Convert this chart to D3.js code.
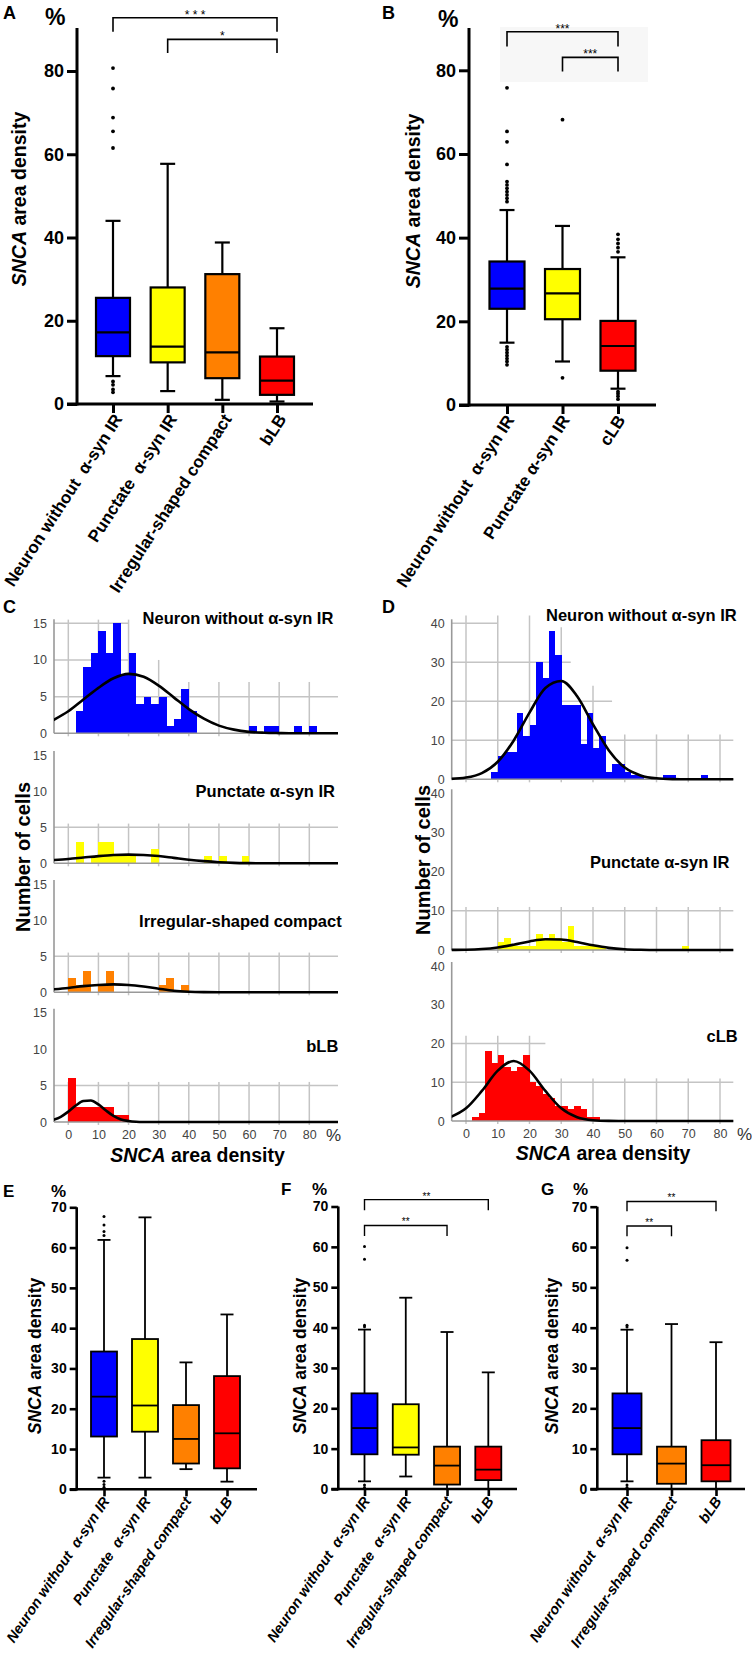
<!DOCTYPE html>
<html lang="en">
<head>
<meta charset="UTF-8">
<title>SNCA area density</title>
<script src="https://cdn.jsdelivr.net/npm/d3@7"></script>
<style>
	body { margin: 0; background: #fff; }
	text { font-family: "Liberation Sans", Arial, Helvetica, sans-serif; white-space: pre; }
</style>
</head>
<body>
<script>
// ---- categories ----
const catsA = ['Neuron without  α-syn IR', 'Punctate  α-syn IR', 'Irregular-shaped compact', 'bLB']
const catsB = ['Neuron without  α-syn IR', 'Punctate α-syn IR', 'cLB']
const catsE = ['Neuron without  α-syn IR', 'Punctate  α-syn IR', 'Irregular-shaped compact', 'bLB']
const catsG = ['Neuron without  α-syn IR', 'Irregular-shaped compact', 'bLB']

// ---- box plots: [low whisker, q1, median, q3, high whisker] ----
const boxA = [[6.7, 11.5, 17.2, 25.5, 44], [3.1, 10, 13.8, 28, 57.7], [1, 6.2, 12.4, 31.2, 38.8], [0.6, 2.2, 5.6, 11.4, 18.2]]
const outA = [[80.7, 75.8, 68.8, 65.5, 61.5, 5.4, 4.6, 3.5, 2.8], [], [], []]
const boxB = [[14.9, 23, 27.8, 34.3, 46.6], [10.4, 20.5, 26.7, 32.5, 42.8], [3.9, 8.2, 14.1, 20.1, 35.3]]
const outB = [
	[75.8, 65.4, 62.9, 57.5, 53.4, 52.6, 51.8, 51, 50.2, 49.4, 48.6, 13.9, 13.2, 12.5, 11.8, 11.1, 10.4, 9.6],
	[68.2, 6.5],
	[40.8, 39.6, 38.6, 37.6, 36.6, 3.2, 2.7, 2.1, 1.4]
]
const boxE = [[2.9, 13.1, 23, 34.2, 61.9], [2.9, 14.3, 20.8, 37.3, 67.5], [5, 6.4, 12.5, 20.9, 31.5], [1.9, 5.2, 13.9, 28.1, 43.4]]
const outE = [[67.7, 65.6, 64, 63, 2, 1.2, 0.5], [], [], []]
const boxF = [[1.9, 8.6, 15.1, 23.7, 39.5], [3.1, 8.5, 10.3, 21, 47.4], [0, 1.1, 5.8, 10.5, 38.9], [0, 2.2, 4.8, 10.5, 28.9]]
const outF = [[60.1, 56.9, 40.6, 40.2, 1, 0.4], [], [], []]
const boxG = [[1.9, 8.6, 15.1, 23.7, 39.5], [0, 1.3, 6.3, 10.5, 40.9], [0, 1.9, 5.9, 12.1, 36.4]]
const outG = [[59.8, 56.7, 40.6, 40.2, 1, 0.4], [], []]

// significance: [from, to, bracket level, drop level, label]
const sigA = [[0, 3, 92.8, 89.4, '* * *'], [1, 3, 87.6, 84.3, '*']]
const sigB = [[0, 2, 89.2, 85.7, '***'], [1, 2, 83.1, 79.7, '***']]
const sigF = [[0, 3, 71.7, 69.1, '**'], [0, 2, 65.3, 62.7, '**']]
const sigG = [[0, 2, 71.3, 68.9, '**'], [0, 1, 65.2, 62.7, '**']]

const ticks80 = [0, 20, 40, 60, 80]
const ticks70 = [0, 10, 20, 30, 40, 50, 60, 70]

// ---- histograms: [bin start, count] ----
const histC1 = [[2.5, 3], [5, 9], [7.5, 11], [10, 14], [12.5, 11], [15, 15], [17.5, 8], [20, 11], [22.5, 4], [25, 5], [27.5, 4], [30, 5], [32.5, 1], [35, 2], [37.5, 6], [40, 3], [60, 1], [65, 1], [67.5, 1], [75, 1], [80, 1]]
const histC2 = [[2.5, 3], [7.5, 1], [10, 3], [12.5, 3], [15, 1], [17.5, 1], [20, 1], [27.5, 2], [45, 1], [50, 1], [57.5, 1]]
const histC3 = [[0, 2], [2.5, 1], [5, 3], [10, 1], [12.5, 3], [30, 1], [32.5, 2], [37.5, 1]]
const histC4 = [[0, 6], [2.5, 2], [5, 2], [7.5, 2], [10, 2], [12.5, 2], [15, 1], [17.5, 1]]
const histD1 = [[8, 2], [10, 6], [12, 7], [14, 7], [16, 17], [18, 11], [20, 14], [22, 30], [24, 26], [26, 38], [28, 32], [30, 19], [32, 19], [34, 19], [36, 9], [38, 17], [40, 8], [42, 11], [44, 2], [46, 4], [48, 4], [50, 2], [52, 1], [54, 1], [62, 1], [64, 1], [74, 1]]
const histD2 = [[10, 2], [12, 3], [14, 1], [16, 1], [18, 1], [20, 1], [22, 4], [24, 3], [26, 4], [28, 3], [30, 2], [32, 6], [34, 1], [36, 1], [38, 1], [40, 1], [42, 1], [68, 1]]
const histD3 = [[2, 1], [4, 2], [6, 18], [8, 15], [10, 17], [12, 14], [14, 13], [16, 14], [18, 17], [20, 10], [22, 9], [24, 7], [26, 6], [28, 4], [30, 4], [32, 3], [34, 4], [36, 3], [38, 1], [40, 1]]

// normal fit curves: [x, count]
const fitC1 = [[-5, 1.8], [0, 3], [5, 4.6], [10, 6.2], [15, 7.5], [20, 8.1], [25, 7.7], [30, 6.5], [35, 4.9], [40, 3.3], [45, 2], [50, 1.05], [55, 0.5], [60, 0.2], [65, 0.08], [70, 0.03], [75, 0], [90, 0]]
const fitC2 = [[-5, 0.45], [0, 0.6], [5, 0.8], [10, 1], [15, 1.15], [20, 1.2], [25, 1.15], [30, 1], [35, 0.75], [40, 0.5], [45, 0.3], [50, 0.15], [55, 0.06], [60, 0.02], [65, 0], [90, 0]]
const fitC3 = [[-5, 0.42], [0, 0.6], [5, 0.85], [10, 1.02], [15, 1.1], [20, 1.02], [25, 0.8], [30, 0.5], [35, 0.22], [40, 0.08], [45, 0.02], [50, 0], [90, 0]]
const fitC4 = [[-5, 0.28], [-2.5, 0.71], [0, 1.42], [2.5, 2.26], [5, 2.88], [7.5, 2.95], [10, 2.41], [12.5, 1.58], [15, 0.83], [17.5, 0.35], [20, 0.14], [22.5, 0.04], [25, 0.01], [30, 0], [90, 0]]
const fitD1 = [[-5, 0.1], [0, 0.45], [5, 1.6], [10, 4.5], [15, 9.9], [20, 17.1], [25, 23.4], [30, 25.2], [35, 21.3], [40, 14.1], [45, 7.4], [50, 3], [55, 1], [60, 0.25], [65, 0.05], [70, 0], [90, 0]]
const fitD2 = [[-5, 0.02], [0, 0.07], [5, 0.25], [10, 0.66], [15, 1.36], [20, 2.19], [25, 2.74], [30, 2.68], [35, 2.03], [40, 1.2], [45, 0.55], [50, 0.2], [55, 0.06], [60, 0], [90, 0]]
const fitD3 = [[-5, 0.97], [0, 3.27], [5, 7.76], [10, 13], [15, 15.5], [20, 13], [25, 7.76], [30, 3.27], [35, 0.97], [40, 0.2], [45, 0.03], [50, 0], [90, 0]]

const histTicks = [0, 10, 20, 30, 40, 50, 60, 70, 80]
const titlesC = ['Neuron without α-syn IR', 'Punctate α-syn IR', 'Irregular-shaped compact', 'bLB']
const titlesD = ['Neuron without α-syn IR', 'Punctate α-syn IR', 'cLB']

// colours
const BLUE = '#0000ff', YELLOW = '#ffff00', ORANGE = '#ff8000', RED = '#ff0000'
const colA = [BLUE, YELLOW, ORANGE, RED]
const colB = [BLUE, YELLOW, RED]
const colG = [BLUE, ORANGE, RED]

let svg = d3.select('body').append('svg')
	.attr('width', 752)
	.attr('height', 1653)
	.style('background', '#fff')

function label(x, y, txt, size, opts = {}) {
	return svg.append('text')
		.attr('x', x).attr('y', y)
		.attr('font-size', size)
		.attr('font-weight', opts.weight || 'bold')
		.attr('text-anchor', opts.anchor || 'start')
		.attr('fill', opts.fill || '#000')
		.text(txt)
}

function densityLabel(x, y, size, rotate) {
	let t = svg.append('text')
		.attr('transform', rotate ? `translate(${x},${y}) rotate(-90)` : `translate(${x},${y})`)
		.attr('text-anchor', 'middle')
		.attr('font-size', size)
		.attr('font-weight', 'bold')
	t.append('tspan').attr('font-style', 'italic').text('SNCA')
	t.append('tspan').text(' area density')
}

/* Box plots */

function boxPanel(p) {
	let g = svg.append('g')
	let y = d3.scaleLinear().domain([0, p.yMax]).range([p.y0, p.yTopPx])
	let x = d3.scalePoint().domain(p.cats).range(p.xRange)

	if (p.shade) {
		g.append('rect').attr('x', p.shade[0]).attr('y', p.shade[1])
			.attr('width', p.shade[2]).attr('height', p.shade[3]).attr('fill', '#f7f7f7')
	}

	p.cats.forEach((c, i) => {
		let [lo, q1, med, q3, hi] = p.boxes[i]
		let cx = x(c)
		let b = g.append('g').attr('stroke', '#000').attr('stroke-width', p.lw)
		b.append('line').attr('x1', cx).attr('x2', cx).attr('y1', y(hi)).attr('y2', y(q3))
		b.append('line').attr('x1', cx).attr('x2', cx).attr('y1', y(q1)).attr('y2', y(lo))
		b.append('line').attr('x1', cx - p.capW / 2).attr('x2', cx + p.capW / 2).attr('y1', y(hi)).attr('y2', y(hi))
		b.append('line').attr('x1', cx - p.capW / 2).attr('x2', cx + p.capW / 2).attr('y1', y(lo)).attr('y2', y(lo))
		b.append('rect')
			.attr('x', cx - p.boxW / 2).attr('y', y(q3))
			.attr('width', p.boxW).attr('height', y(q1) - y(q3))
			.attr('fill', p.colors[i])
		b.append('line').attr('x1', cx - p.boxW / 2).attr('x2', cx + p.boxW / 2).attr('y1', y(med)).attr('y2', y(med))

		g.selectAll(null)
			.data(p.outs[i])
			.enter()
			.append('circle')
			.attr('cx', cx)
			.attr('cy', d => y(d))
			.attr('r', p.dotR)
			.attr('fill', '#000')
	})

	// y axis
	let yAxis = d3.axisLeft(y).tickValues(p.ticks).tickSize(p.tickLen).tickPadding(3)
	let ga = g.append('g').attr('transform', `translate(${p.axisX},0)`).call(yAxis)
	ga.select('.domain').remove()
	ga.selectAll('.tick line').attr('stroke', '#000').attr('stroke-width', p.axisW)
	ga.selectAll('.tick text')
		.attr('font-size', p.tickFont).attr('font-weight', 'bold').attr('fill', '#000')
		.style('font-family', '"Liberation Sans", Arial, sans-serif')
	g.append('line').attr('x1', p.axisX).attr('x2', p.axisX)
		.attr('y1', p.axisTop).attr('y2', p.y0 + p.axisW / 2)
		.attr('stroke', '#000').attr('stroke-width', p.axisW)

	// x axis
	let xAxis = d3.axisBottom(x).tickSize(p.xTickLen).tickFormat('')
	let gx = g.append('g').attr('transform', `translate(0,${p.y0})`).call(xAxis)
	gx.select('.domain').remove()
	gx.selectAll('.tick line').attr('stroke', '#000').attr('stroke-width', p.axisW)
	g.append('line').attr('x1', p.axisX - p.tickLen).attr('x2', p.xEnd)
		.attr('y1', p.y0).attr('y2', p.y0)
		.attr('stroke', '#000').attr('stroke-width', p.axisW)

	g.selectAll('.xl')
		.data(p.cats)
		.enter()
		.append('text')
		.attr('transform', d => `translate(${x(d) + p.lx},${p.y0 + p.ly}) rotate(${p.rot})`)
		.attr('text-anchor', 'end')
		.attr('font-size', p.labelFont)
		.attr('font-weight', 'bold')
		.attr('font-style', p.italic ? 'italic' : 'normal')
		.text(d => d)

	// significance brackets
	p.sig.forEach(([a, b, lev, drop, txt]) => {
		let x1 = x(p.cats[a]), x2 = x(p.cats[b])
		g.append('path')
			.attr('d', `M${x1},${y(drop)}V${y(lev)}H${x2}V${y(drop)}`)
			.attr('fill', 'none').attr('stroke', '#000').attr('stroke-width', p.sigW)
		g.append('text')
			.attr('x', (x1 + x2) / 2).attr('y', y(lev) + p.sigDy)
			.attr('text-anchor', 'middle').attr('font-size', p.sigFont)
			.text(txt)
	})

	label(p.letter[0], p.letter[1], p.letter[2], p.letterFont)
	label(p.pct[0], p.pct[1], '%', p.pctFont)
	densityLabel(p.yLab[0], p.yLab[1], p.yLabFont, true)
}

const bigBox = { yMax: 80, ticks: ticks80, tickLen: 10, xTickLen: 9, axisW: 3, lw: 2.2, tickFont: 18, labelFont: 17, italic: false, rot: -57, lx: 10, ly: 15, dotR: 1.9, letterFont: 18, pctFont: 23, yLabFont: 19.5, sigW: 1.6, sigFont: 12, sigDy: 1 }
const smallBox = { yMax: 70, ticks: ticks70, tickLen: 7, xTickLen: 7, axisW: 2.6, lw: 1.8, tickFont: 14, labelFont: 14.5, italic: true, rot: -56, lx: 6, ly: 12, dotR: 1.5, letterFont: 17, pctFont: 17, yLabFont: 17.5, sigW: 1.4, sigFont: 10, sigDy: 0 }

boxPanel(Object.assign({}, bigBox, {
	cats: catsA, boxes: boxA, outs: outA, colors: colA, sig: sigA,
	y0: 404, yTopPx: 71, axisTop: 28, axisX: 77, xRange: [113, 277], xEnd: 313,
	boxW: 34, capW: 15, letter: [3, 19, 'A'], pct: [45, 25], yLab: [26, 199]
}))
boxPanel(Object.assign({}, bigBox, {
	cats: catsB, boxes: boxB, outs: outB, colors: colB, sig: sigB,
	y0: 405, yTopPx: 70.3, axisTop: 28, axisX: 469, xRange: [507, 618], xEnd: 656,
	boxW: 35, capW: 15, letter: [382, 18.5, 'B'], pct: [438, 27], yLab: [420, 201],
	shade: [500, 27, 148, 55], lx: 8
}))
boxPanel(Object.assign({}, smallBox, {
	cats: catsE, boxes: boxE, outs: outE, colors: colA, sig: [],
	y0: 1489.3, yTopPx: 1207.3, axisTop: 1207.3, axisX: 76.7, xRange: [104, 227], xEnd: 257,
	boxW: 26, capW: 13, letter: [3, 1197, 'E'], pct: [51, 1197], yLab: [41, 1356]
}))
boxPanel(Object.assign({}, smallBox, {
	cats: catsE, boxes: boxF, outs: outF, colors: colA, sig: sigF,
	y0: 1489, yTopPx: 1206.5, axisTop: 1206.5, axisX: 338.3, xRange: [364.5, 488.3], xEnd: 517,
	boxW: 26, capW: 13, letter: [281, 1195, 'F'], pct: [312, 1195], yLab: [306, 1356]
}))
boxPanel(Object.assign({}, smallBox, {
	cats: catsG, boxes: boxG, outs: outG, colors: colG, sig: sigG,
	y0: 1489, yTopPx: 1206.7, axisTop: 1206.7, axisX: 597.3, xRange: [627, 716], xEnd: 745,
	boxW: 29, capW: 13, letter: [541, 1195, 'G'], pct: [573, 1195], yLab: [558, 1356]
}))

/* Histograms */

function histPanel(p) {
	let x = d3.scaleLinear().domain([0, 80]).range(p.xRange)
	let xHi = x.invert(p.xMax)

	p.subs.forEach((s, k) => {
		let g = svg.append('g')
		let y = d3.scaleLinear().domain([0, s.yMax]).range([s.y0, s.yTopPx])

		// grid
		s.hGrid.forEach(([v, to]) => {
			g.append('line')
				.attr('x1', p.xMin).attr('x2', x(Math.min(to, xHi)))
				.attr('y1', y(v)).attr('y2', y(v))
				.attr('stroke', '#c4c4c4').attr('stroke-width', 1.5)
		})
		histTicks.forEach((v, i) => {
			g.append('line')
				.attr('x1', x(v)).attr('x2', x(v))
				.attr('y1', s.y0 + 3).attr('y2', y(s.vTop[i]))
				.attr('stroke', '#c4c4c4').attr('stroke-width', 1.5)
		})

		// bars
		g.selectAll('.bar')
			.data(s.bins)
			.enter()
			.append('rect')
			.attr('x', d => x(d[0]))
			.attr('width', d => x(d[0] + s.binW) - x(d[0]) + 0.3)
			.attr('y', d => y(d[1]))
			.attr('height', d => y(0) - y(d[1]))
			.attr('fill', s.color)
			.attr('shape-rendering', 'crispEdges')

		// axes
		g.append('line').attr('x1', p.xMin).attr('x2', p.xMax)
			.attr('y1', s.y0).attr('y2', s.y0)
			.attr('stroke', '#999').attr('stroke-width', 1.6)
		g.append('line').attr('x1', p.xMin).attr('x2', p.xMin)
			.attr('y1', s.y0).attr('y2', y(s.yMax) - 4)
			.attr('stroke', '#999').attr('stroke-width', 1.6)
		let ya = d3.axisLeft(y).tickValues(s.ticks).tickSize(0).tickPadding(7)
		let gy = g.append('g').attr('transform', `translate(${p.xMin},0)`).call(ya)
		gy.select('.domain').remove()
		gy.selectAll('.tick text').attr('font-size', 12.5).attr('fill', '#444')
			.style('font-family', '"Liberation Sans", Arial, sans-serif')

		// fit curve
		let clipId = `clip-${p.id}-${k}`
		g.append('clipPath').attr('id', clipId)
			.append('rect').attr('x', p.xMin).attr('y', y(s.yMax) - 10)
			.attr('width', p.xMax - p.xMin).attr('height', s.y0 - y(s.yMax) + 13)
		let line = d3.line()
			.x(d => x(d[0]))
			.y(d => y(d[1]))
			.curve(d3.curveMonotoneX)
		g.append('path')
			.datum(s.fit)
			.attr('d', line)
			.attr('clip-path', `url(#${clipId})`)
			.attr('fill', 'none')
			.attr('stroke', '#000')
			.attr('stroke-width', 2.6)

		label(s.title[1], s.title[2], s.title[0], 16.5, { anchor: 'end' })
	})

	// bottom ticks
	let last = p.subs[p.subs.length - 1]
	let xa = d3.axisBottom(x).tickValues(histTicks).tickSize(0).tickPadding(8)
	let gx = svg.append('g').attr('transform', `translate(0,${last.y0})`).call(xa)
	gx.select('.domain').remove()
	gx.selectAll('.tick text').attr('font-size', 12.5).attr('fill', '#444')
		.style('font-family', '"Liberation Sans", Arial, sans-serif')
	label(p.pctX, last.y0 + 19, '%', 17, { weight: 'normal', fill: '#333' })

	label(p.letter[0], p.letter[1], p.letter[2], 18)
	svg.append('text')
		.attr('transform', `translate(${p.yLab[0]},${p.yLab[1]}) rotate(-90)`)
		.attr('text-anchor', 'middle')
		.attr('font-size', 20).attr('font-weight', 'bold')
		.text('Number of cells')
	densityLabel(p.xLab[0], p.xLab[1], 19.5, false)
}

const v7 = [15.5, 15.5, 15.5, 10, 7, 7, 7, 7, 7]
const v55 = [5.5, 5.5, 5.5, 5.5, 5.5, 5.5, 5.5, 5.5, 5.5]
const ticks15 = [0, 5, 10, 15]
const ticks40 = [0, 10, 20, 30, 40]

histPanel({
	id: 'c', xRange: [68.3, 309.3], xMin: 54, xMax: 338, pctX: 326,
	letter: [3, 613, 'C'], yLab: [29.5, 857], xLab: [197.5, 1162],
	subs: [
		{ y0: 733.3, yTopPx: 623.3, yMax: 15, ticks: ticks15, bins: histC1, binW: 2.5, fit: fitC1, color: BLUE,
			hGrid: [[5, 90], [10, 20], [15, 20]], vTop: v7, title: [titlesC[0], 333.3, 623.5] },
		{ y0: 863.3, yTopPx: 755, yMax: 15, ticks: ticks15, bins: histC2, binW: 2.5, fit: fitC2, color: YELLOW,
			hGrid: [[5, 90]], vTop: v55, title: [titlesC[1], 335, 797] },
		{ y0: 992.3, yTopPx: 884, yMax: 15, ticks: ticks15, bins: histC3, binW: 2.5, fit: fitC3, color: ORANGE,
			hGrid: [[5, 90]], vTop: v55, title: [titlesC[2], 341.7, 927] },
		{ y0: 1122, yTopPx: 1012.7, yMax: 15, ticks: ticks15, bins: histC4, binW: 2.5, fit: fitC4, color: RED,
			hGrid: [[5, 90]], vTop: v55, title: [titlesC[3], 338.3, 1051.7] }
	]
})

histPanel({
	id: 'd', xRange: [466, 720], xMin: 451.7, xMax: 733.3, pctX: 737,
	letter: [382, 613, 'D'], yLab: [430, 860], xLab: [603, 1160],
	subs: [
		{ y0: 779.3, yTopPx: 623.3, yMax: 40, ticks: ticks40, bins: histD1, binW: 2, fit: fitD1, color: BLUE,
			hGrid: [[10, 90], [20, 46], [30, 33], [40, 10]], vTop: [42, 42, 42, 39, 24, 11.5, 11.5, 11.5, 11.5],
			title: [titlesD[0], 736.7, 621] },
		{ y0: 950, yTopPx: 793.3, yMax: 40, ticks: ticks40, bins: histD2, binW: 2, fit: fitD2, color: YELLOW,
			hGrid: [[10, 90]], vTop: [11, 11, 11, 11, 11, 11, 11, 11, 11], title: [titlesD[1], 729.3, 868] },
		{ y0: 1121, yTopPx: 966, yMax: 40, ticks: ticks40, bins: histD3, binW: 2, fit: fitD3, color: RED,
			hGrid: [[20, 25], [10, 90]], vTop: [22, 22, 22, 11, 11, 11, 11, 11, 11], title: [titlesD[2], 737.7, 1041.7] }
	]
})
</script>
</body>
</html>
